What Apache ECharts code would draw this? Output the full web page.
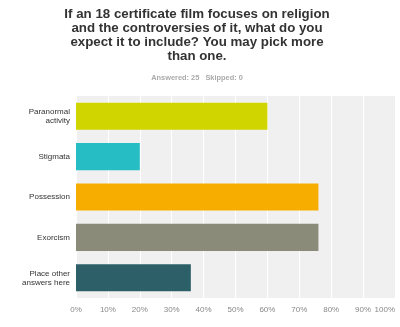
<!DOCTYPE html>
<html>
<head>
<meta charset="utf-8">
<script src="https://cdn.jsdelivr.net/npm/echarts@6/dist/echarts.min.js"></script>
<style>
html,body{margin:0;padding:0;background:#fff;}
#chart{width:400px;height:327px;}
</style>
</head>
<body>
<div id="chart"></div>
<script>
// Survey answers (top to bottom) and share of respondents choosing each
const categories = ['Paranormal\nactivity', 'Stigmata', 'Possession', 'Exorcism', 'Place other\nanswers here'];
const percentages = [60, 20, 76, 76, 36];
const barColors = ['#d0d500', '#26bec4', '#f7ad00', '#8b8b79', '#2c5f68'];
const tickValues = [0, 10, 20, 30, 40, 50, 60, 70, 80, 90, 100];
const titleText = 'If an 18 certificate film focuses on religion\nand the controversies of it, what do you\nexpect it to include? You may pick more\nthan one.';
const subText = 'Answered: 25   Skipped: 0';

const chart = echarts.init(document.getElementById('chart'));
chart.setOption({
  animation: false,
  title: {
    text: titleText,
    subtext: subText,
    left: 192,
    textAlign: 'center',
    top: 2,
    itemGap: 11,
    textStyle: {
      fontFamily: 'Liberation Sans, Arial, sans-serif',
      fontSize: 13.3,
      fontWeight: 'bold',
      color: '#333',
      lineHeight: 14
    },
    subtextStyle: {
      fontFamily: 'Liberation Sans, Arial, sans-serif',
      fontSize: 7.4,
      fontWeight: 'bold',
      color: '#aaa'
    }
  },
  grid: {
    left: 76,
    right: 5,
    top: 96,
    bottom: 29,
    show: true,
    backgroundColor: '#f0f0f0',
    borderWidth: 0
  },
  xAxis: {
    type: 'value',
    min: tickValues[0],
    max: tickValues[tickValues.length - 1],
    interval: 10,
    axisLine: { show: false },
    axisTick: { show: false },
    splitLine: { show: true, lineStyle: { color: '#ffffff', width: 1 } },
    axisLabel: {
      formatter: v => v + '%',
      color: '#888',
      fontSize: 8,
      fontFamily: 'Liberation Sans, Arial, sans-serif',
      margin: 8,
      alignMaxLabel: 'right'
    }
  },
  yAxis: {
    type: 'category',
    data: categories,
    inverse: true,
    axisLine: { show: false },
    axisTick: { show: false },
    splitLine: { show: false },
    axisLabel: {
      color: '#333',
      fontSize: 8,
      fontFamily: 'Liberation Sans, Arial, sans-serif',
      margin: 6,
      lineHeight: 9,
      align: 'right'
    }
  },
  series: [{
    type: 'bar',
    data: percentages.map((v, i) => ({ value: v, itemStyle: { color: barColors[i] } })),
    barWidth: '67%'
  }]
});
</script>
</body>
</html>
